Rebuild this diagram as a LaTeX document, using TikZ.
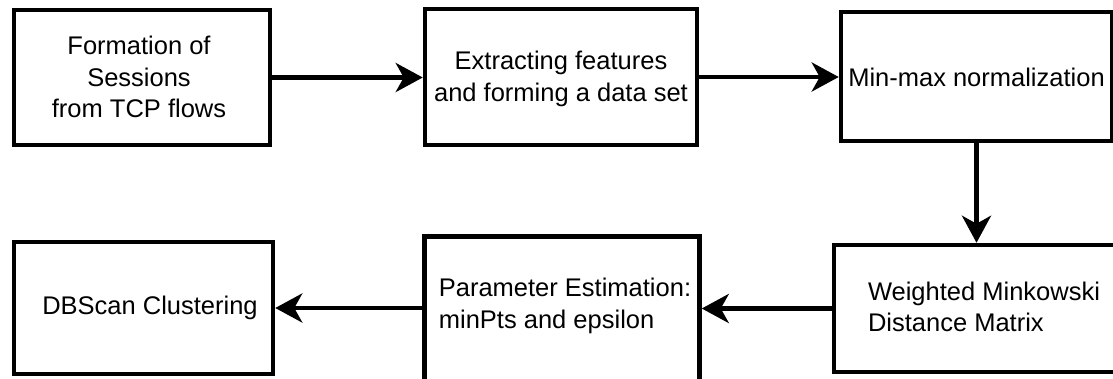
\documentclass[tikz,border=0pt]{standalone}
\usepackage{fontspec}
\setmainfont{Liberation Sans}
\usetikzlibrary{arrows.meta}
\tikzset{
  stage/.style={draw=black, line width=4.5pt, inner sep=0pt, fill=white},
  lbl/.style={inner sep=0pt, font=\fontsize{25.5}{31.5}\selectfont, text=black},
  flow/.style={line width=4.5pt, -{Stealth[length=27pt, width=29pt, inset=8pt]}}
}
\begin{document}
\begin{tikzpicture}[x=1pt, y=-1pt]
  \useasboundingbox (0,0) rectangle (1113,378);
  \clip (0,0) rectangle (1113,378);
  \fill[white] (0,0) rectangle (1113,378);

  % processing stages
  \node[stage, minimum width=256pt, minimum height=135pt] (b1) at (142,77.5) {};
  \node[stage, minimum width=272pt, minimum height=136pt] (b2) at (561,77) {};
  \node[stage, minimum width=271pt, minimum height=129pt] (b3) at (976.5,76.5) {};
  \node[stage, minimum width=282pt, minimum height=127pt] (b4) at (975,308.5) {};
  \node[stage, minimum width=275pt, minimum height=153pt] (b5) at (562,313) {};
  \node[stage, minimum width=259pt, minimum height=132pt] (b6) at (143.5,308) {};

  % stage captions
  \node[lbl, align=center] (t1) at (139,77) {Formation of\\Sessions\\from TCP flows};
  \node[lbl, align=center] (t2) at (561,79) {Extracting features\\and forming a data set};
  \node[lbl, align=center] (t3) at (976.5,77) {Min-max normalization};
  \node[lbl, align=left] (t4) at (984,307) {Weighted Minkowski\\Distance Matrix};
  \node[lbl, align=left] (t5) at (565,306) {Parameter Estimation:\\minPts and epsilon};
  \node[lbl, align=center] (t6) at (150,308) {DBScan Clustering};

  % connectors
  \draw[flow] (b1.east) -- (b1.east -| b2.west);
  \draw[flow] (b2.east) -- (b2.east -| b3.west);
  \draw[flow] (b3.south) -- (b3.south |- b4.north);
  \draw[flow] (b4.west) -- (b4.west -| b5.east);
  \draw[flow] (b6.east -| b5.west) -- (b6.east);
\end{tikzpicture}
\end{document}
